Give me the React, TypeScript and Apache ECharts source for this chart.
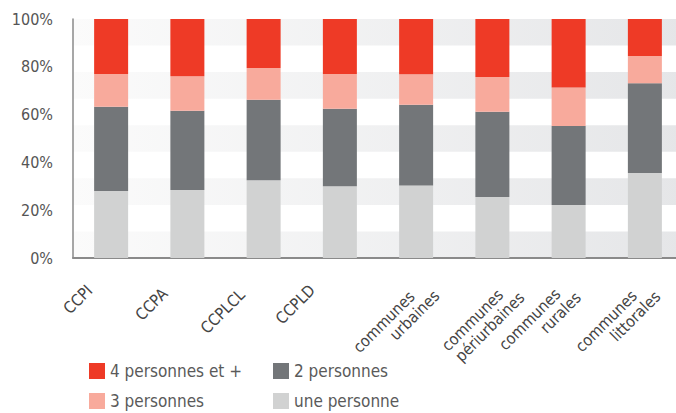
import React, { useEffect, useRef } from "react";
import * as echarts from "echarts";

const categories = [
  "CCPI",
  "CCPA",
  "CCPLCL",
  "CCPLD",
  "communes\nurbaines",
  "communes\npériurbaines",
  "communes\nrurales",
  "communes\nlittorales",
];
const unePersonne = [28.0, 28.5, 32.5, 30.0, 30.3, 25.5, 22.2, 35.6];
const deuxPersonnes = [35.3, 33.1, 33.7, 32.5, 33.8, 35.7, 33.0, 37.5];
const troisPersonnes = [13.7, 14.4, 13.3, 14.5, 12.8, 14.5, 16.1, 11.4];
const quatrePersonnes = [23.0, 24.0, 20.5, 23.0, 23.1, 24.3, 28.7, 15.5];
const yTicks = [0, 20, 40, 60, 80, 100];

// label layout (styling only)
const LABEL_PAD = [
  [23, 42, 0, 0],
  [26, 45, 0, 0],
  [29, 45, 0, 0],
  [14, 46, 0, 0],
  [73, 16, 0, 0],
  [88, 11, 0, 0],
  [60, 25, 0, 0],
  [63, 22, 0, 0],
];
const LINE1_PAD = [0, 0, 0, 0, 18, 13, 12, 16];

const FONT = "'DejaVu Sans Condensed', 'Liberation Sans Narrow', Roboto, sans-serif";
const COLORS = {
  quatre: "#ee3a26",
  trois: "#f8aa9c",
  deux: "#737679",
  une: "#d1d2d2",
};

export default function App() {
  const ref = useRef<HTMLDivElement>(null);
  useEffect(() => {
    if (!ref.current) return;
    document.body.style.margin = "0";
    const chart = echarts.init(ref.current, null, { renderer: "svg" });
    const rich: any = {
      l2: { fontSize: 16, fontFamily: FONT, color: "#444", lineHeight: 17 },
    };
    categories.forEach((_, i) => {
      rich["l1_" + i] = {
        fontSize: 16,
        fontFamily: FONT,
        color: "#444",
        lineHeight: 17,
        padding: [0, LINE1_PAD[i], 0, 0],
      };
    });
    const bandGradient = new echarts.graphic.LinearGradient(0, 0, 1, 0, [
      { offset: 0, color: "#fbfbfb" },
      { offset: 1, color: "#e5e6e8" },
    ]);
    const mk = (name: string, data: number[], color: string) => ({
      name,
      type: "bar",
      stack: "total",
      barWidth: 34,
      data,
      itemStyle: { color },
      emphasis: { disabled: true },
    });
    chart.setOption({
      animation: false,
      grid: { left: 73, right: -7, top: 19, bottom: 155, outerBoundsMode: "none" },
      legend: {
        type: "plain",
        left: 89,
        top: 361,
        padding: 0,
        width: 370,
        itemWidth: 16,
        itemHeight: 16,
        itemGap: 10,
        icon: "rect",
        selectedMode: false,
        data: ["4 personnes et +", "2 personnes", "3 personnes", "une personne"],
        textStyle: {
          fontSize: 17,
          fontFamily: FONT,
          color: "#5a5a5a",
          width: 153,
          lineHeight: 20,
        },
      },
      xAxis: {
        type: "category",
        data: categories.map((c, i) => ({
          value: c,
          textStyle: { padding: LABEL_PAD[i] },
        })),
        axisLine: { lineStyle: { color: "#8a8a8a", width: 2 } },
        axisTick: { show: false },
        axisLabel: {
          interval: 0,
          rotate: 45,
          margin: -8,
          fontSize: 16,
          fontFamily: FONT,
          color: "#444",
          lineHeight: 17,
          rich,
          formatter: (v: string) => {
            const i = categories.indexOf(v);
            if (v.indexOf("\n") >= 0) {
              const [a, b] = v.split("\n");
              return `{l1_${i}|${a}}\n{l2|${b}}`;
            }
            return v;
          },
        },
      },
      yAxis: [
        {
          type: "value",
          min: yTicks[0],
          max: yTicks[yTicks.length - 1],
          interval: 20,
          axisLine: { show: true, lineStyle: { color: "#8a8a8a", width: 1.5 } },
          axisTick: { show: false },
          splitLine: { show: false },
          axisLabel: {
            formatter: "{value}%",
            fontSize: 16,
            fontFamily: FONT,
            color: "#555",
            margin: 20,
          },
          z: 3,
        },
        {
          type: "value",
          min: 0,
          max: 9,
          interval: 1,
          position: "right",
          axisLine: { show: false },
          axisTick: { show: false },
          axisLabel: { show: false },
          splitLine: { show: false },
          splitArea: {
            show: true,
            areaStyle: { color: [bandGradient, "rgba(255,255,255,0)"] },
          },
        },
      ],
      series: [
        mk("une personne", unePersonne, COLORS.une),
        mk("2 personnes", deuxPersonnes, COLORS.deux),
        mk("3 personnes", troisPersonnes, COLORS.trois),
        mk("4 personnes et +", quatrePersonnes, COLORS.quatre),
      ],
    });
    return () => chart.dispose();
  }, []);
  return <div ref={ref} style={{ width: 676, height: 413 }} />;
}
